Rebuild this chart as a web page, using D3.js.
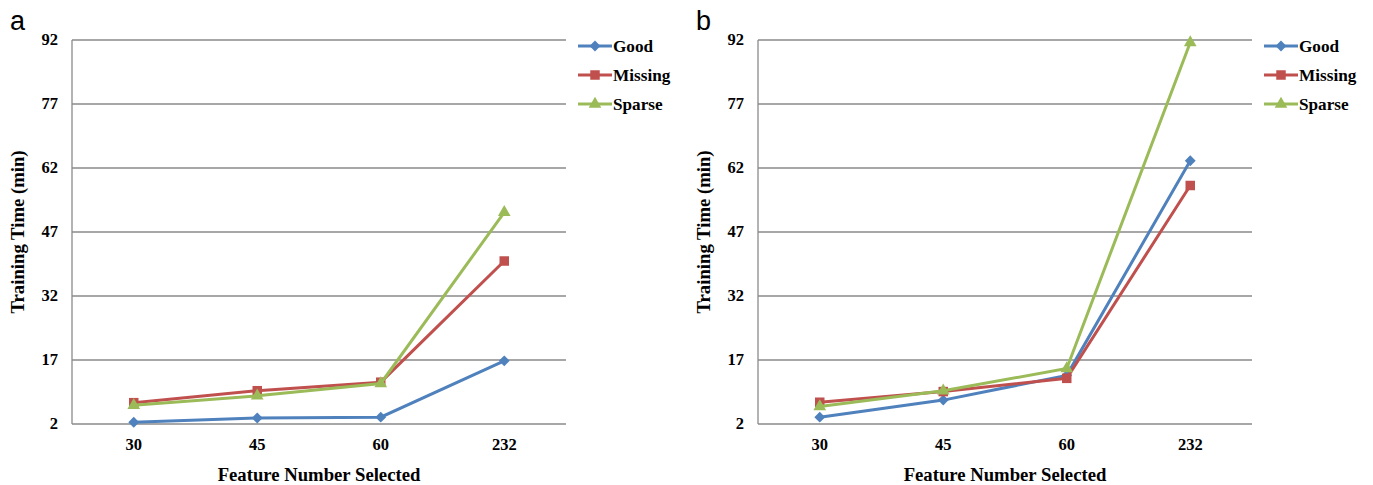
<!DOCTYPE html>
<html>
<head>
<meta charset="utf-8">
<script src="https://cdn.jsdelivr.net/npm/d3@7"></script>
<style>
  body { margin: 0; background: #fff; }
  svg { display: block; }
  .tick-label { font-family: "Liberation Serif", "Times New Roman", serif; font-weight: bold; font-size: 16.5px; fill: #000; }
  .axis-title { font-family: "Liberation Serif", "Times New Roman", serif; font-weight: bold; font-size: 18.7px; fill: #000; }
  .legend-text { font-family: "Liberation Serif", "Times New Roman", serif; font-weight: bold; font-size: 17.2px; fill: #000; }
  .panel-label { font-family: "Liberation Sans", Arial, sans-serif; font-size: 27px; fill: #000; }
</style>
</head>
<body>
<svg id="chart" width="1373" height="485"></svg>
<script>
// data
const categories = ["30", "45", "60", "232"];
const yTicks = [2, 17, 32, 47, 62, 77, 92];
const seriesNames = ["Good", "Missing", "Sparse"];
const panelA_good = [2.4, 3.4, 3.6, 16.8];
const panelA_missing = [7.0, 9.8, 11.8, 40.2];
const panelA_sparse = [6.4, 8.6, 11.5, 51.6];
const panelB_good = [3.6, 7.6, 13.4, 63.7];
const panelB_missing = [7.1, 9.6, 12.7, 57.9];
const panelB_sparse = [6.1, 9.8, 15.0, 91.4];

const colors = { Good: "#4F81BD", Missing: "#C0504D", Sparse: "#9BBB59" };
const symbols = { Good: d3.symbolDiamond2, Missing: d3.symbolSquare2, Sparse: d3.symbolTriangle2 };
const symbolSize = { Good: 75, Missing: 115, Sparse: 115 };

const svg = d3.select("#chart");

function drawPanel(cfg) {
    const g = svg.append("g");
    const x = d3.scaleBand().domain(categories).range([cfg.left, cfg.right]);
    const y = d3.scaleLinear().domain([2, 92]).range([424, 40]);

    // grid lines
    g.selectAll("line.grid")
        .data(yTicks)
        .join("line")
        .attr("class", "grid")
        .attr("x1", cfg.left).attr("x2", cfg.right)
        .attr("y1", d => y(d)).attr("y2", d => y(d))
        .attr("stroke", "#8a8a8a").attr("stroke-width", 1.3);

    // left axis line
    g.append("line")
        .attr("x1", cfg.left).attr("x2", cfg.left)
        .attr("y1", y(92)).attr("y2", y(2))
        .attr("stroke", "#8a8a8a").attr("stroke-width", 1.3);

    g.selectAll("text.ytick")
        .data(yTicks)
        .join("text")
        .attr("class", "tick-label")
        .attr("x", cfg.left - 14)
        .attr("y", d => y(d) + 5)
        .attr("text-anchor", "end")
        .text(d => d);

    g.selectAll("text.xtick")
        .data(categories)
        .join("text")
        .attr("class", "tick-label")
        .attr("x", d => x(d) + x.bandwidth() / 2)
        .attr("y", 450)
        .attr("text-anchor", "middle")
        .text(d => d);

    g.append("text")
        .attr("class", "axis-title")
        .attr("x", (cfg.left + cfg.right) / 2)
        .attr("y", 481)
        .attr("text-anchor", "middle")
        .text("Feature Number Selected");

    g.append("text")
        .attr("class", "axis-title")
        .attr("transform", `translate(${cfg.left - 48},${(y(2) + y(92)) / 2}) rotate(-90)`)
        .attr("text-anchor", "middle")
        .text("Training Time (min)");

    g.append("text")
        .attr("class", "panel-label")
        .attr("x", cfg.labelX)
        .attr("y", 30)
        .text(cfg.label);

    const line = d3.line()
        .x((d, i) => x(categories[i]) + x.bandwidth() / 2)
        .y(d => y(d));

    seriesNames.forEach(name => {
        const vals = cfg.data[name];
        g.append("path")
            .datum(vals)
            .attr("d", line)
            .attr("fill", "none")
            .attr("stroke", colors[name])
            .attr("stroke-width", 3);
        g.selectAll(null)
            .data(vals)
            .join("path")
            .attr("transform", (d, i) => `translate(${x(categories[i]) + x.bandwidth() / 2},${y(d)})`)
            .attr("d", d3.symbol().type(symbols[name]).size(symbolSize[name]))
            .attr("fill", colors[name]);
    });

    // legend
    const legend = g.append("g").attr("transform", `translate(${cfg.right + 12},0)`);
    seriesNames.forEach((name, i) => {
        const ly = 46 + i * 29;
        legend.append("line")
            .attr("x1", 0).attr("x2", 34)
            .attr("y1", ly).attr("y2", ly)
            .attr("stroke", colors[name]).attr("stroke-width", 3);
        legend.append("path")
            .attr("transform", `translate(17,${ly})`)
            .attr("d", d3.symbol().type(symbols[name]).size(symbolSize[name]))
            .attr("fill", colors[name]);
        legend.append("text")
            .attr("class", "legend-text")
            .attr("x", 35)
            .attr("y", ly + 6)
            .text(name);
    });
}

drawPanel({
    left: 72, right: 566, label: "a", labelX: 10,
    data: { Good: panelA_good, Missing: panelA_missing, Sparse: panelA_sparse }
});
drawPanel({
    left: 758, right: 1252, label: "b", labelX: 696,
    data: { Good: panelB_good, Missing: panelB_missing, Sparse: panelB_sparse }
});
</script>
</body>
</html>
